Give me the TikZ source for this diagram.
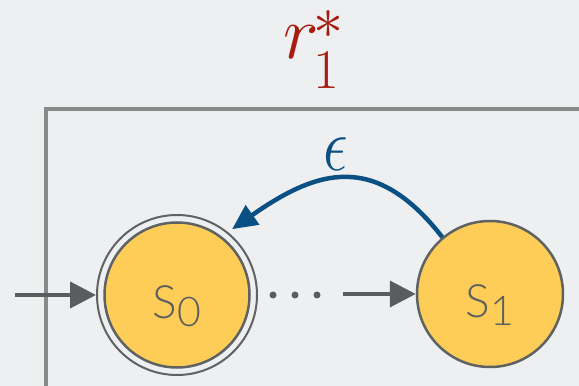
\RequirePackage{fix-cm}
\documentclass[tikz,border=0pt]{standalone}
\usepackage{fontspec}
\newfontfamily\statefont{Lato}[UprightFont=* Light]
\usetikzlibrary{arrows.meta}
\definecolor{bgc}{HTML}{EEEFF1}
\definecolor{boxc}{HTML}{868A89}
\definecolor{statefill}{HTML}{FDCD57}
\definecolor{stateline}{HTML}{5E6262}
\definecolor{statetext}{HTML}{5C6060}
\definecolor{arrowgray}{HTML}{595D5D}
\definecolor{epsblue}{HTML}{0B5084}
\definecolor{labred}{HTML}{A61D0F}
\begin{document}
\begin{tikzpicture}[x=1pt,y=1pt,
  state/.style={circle,draw=stateline,fill=statefill,line width=2.5pt,inner sep=0pt,
    text=statetext,text height=56pt,text depth=8pt,
    font=\statefont\fontsize{46}{46}\selectfont},
  ring/.style={circle,draw=stateline,line width=2pt,inner sep=0pt,minimum size=160pt},
  flow/.style={draw=arrowgray,line width=4pt,-{Triangle[length=26pt,width=26pt]}},
  back/.style={draw=epsblue,line width=4.5pt,-{Triangle[length=25pt,width=23pt]}},
  dotc/.style={circle,fill=arrowgray,inner sep=0pt,minimum size=7pt},
  boxline/.style={draw=boxc,line width=4pt},
  mathlab/.style={font=\fontsize{76}{76}\selectfont,inner sep=0pt}
]
\useasboundingbox (0,0) rectangle (579,386);
\fill[bgc] (0,0) rectangle (579,386);
\clip (0,0) rectangle (579,386);
\draw[boxline] (46,-10) -- (46,277) -- (600,277);
\node[ring] (s0o) at (177,91) {};
\node[state,minimum size=145pt] (s0) at (177,91) {S\raisebox{-8pt}{\fontsize{41}{41}\selectfont 0}};
\node[state,minimum size=146pt] (s1) at (490,92) {S\raisebox{-8pt}{\fontsize{41}{41}\selectfont 1}};
\coordinate (start) at (15,91);
\draw[flow] (start) -- (s0o.west);
\node[dotc] (d1) at (273,91) {};
\node[dotc] (d2) at (295,91) {};
\node[dotc] (d3) at (317,91) {};
\coordinate (mid) at (343,92);
\draw[flow] (mid) -- (s1.west);
\draw[back,shorten >=5pt] (s1.130) to[out=128,in=35,looseness=1.3] (s0o.51);
\node[mathlab,text=epsblue,xscale=0.82] (eps) at (336,232) {$\epsilon$};
\node[mathlab,text=labred,anchor=base west] (lab) at (283,327)
  {$r$\kern-5pt\rlap{\smash{\raisebox{20pt}{\fontsize{60}{60}\selectfont$*$}}}\raisebox{-30pt}{\fontsize{56}{56}\selectfont 1}};
\end{tikzpicture}
\end{document}
